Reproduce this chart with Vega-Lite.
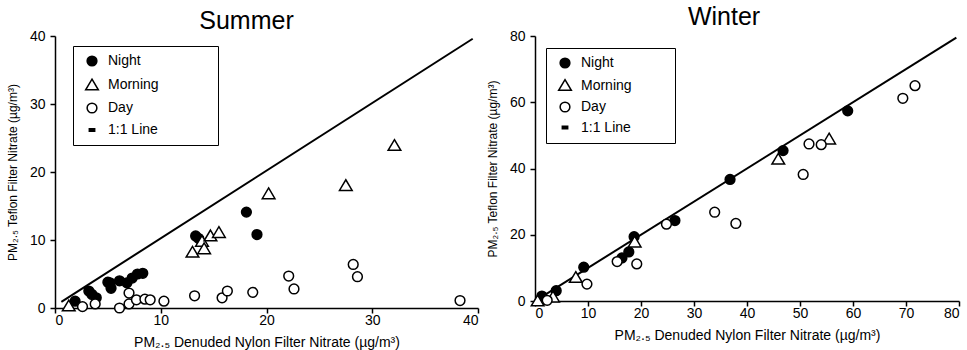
{
  "$schema": "https://vega.github.io/schema/vega-lite/v6.json",
  "padding": {"left": 6, "top": 5, "right": 2, "bottom": 2},
  "background": "white",
  "spacing": 7,
  "datasets": {
    "summer": [
      {"period": "Night", "x": 1.9, "y": 1.0},
      {"period": "Night", "x": 3.2, "y": 2.5},
      {"period": "Night", "x": 3.5, "y": 2.0},
      {"period": "Night", "x": 3.9, "y": 1.5},
      {"period": "Night", "x": 5.0, "y": 3.8},
      {"period": "Night", "x": 5.2, "y": 3.7},
      {"period": "Night", "x": 5.3, "y": 2.9},
      {"period": "Night", "x": 6.1, "y": 4.0},
      {"period": "Night", "x": 6.8, "y": 3.7},
      {"period": "Night", "x": 7.3, "y": 4.4},
      {"period": "Night", "x": 7.8, "y": 5.0},
      {"period": "Night", "x": 8.3, "y": 5.1},
      {"period": "Night", "x": 13.3, "y": 10.6},
      {"period": "Night", "x": 13.6, "y": 10.2},
      {"period": "Night", "x": 18.1, "y": 14.1},
      {"period": "Night", "x": 19.1, "y": 10.8},
      {"period": "Morning", "x": 1.3, "y": 0.3},
      {"period": "Morning", "x": 13.0, "y": 8.2},
      {"period": "Morning", "x": 13.9, "y": 9.8},
      {"period": "Morning", "x": 14.1, "y": 8.7},
      {"period": "Morning", "x": 14.7, "y": 10.6},
      {"period": "Morning", "x": 15.5, "y": 11.1},
      {"period": "Morning", "x": 20.2, "y": 16.8},
      {"period": "Morning", "x": 27.5, "y": 18.0},
      {"period": "Morning", "x": 32.1, "y": 23.9},
      {"period": "Day", "x": 2.6, "y": 0.2},
      {"period": "Day", "x": 3.8, "y": 0.6},
      {"period": "Day", "x": 6.1, "y": 0.0},
      {"period": "Day", "x": 7.0, "y": 0.6},
      {"period": "Day", "x": 7.0, "y": 2.2},
      {"period": "Day", "x": 7.7, "y": 1.2},
      {"period": "Day", "x": 8.5, "y": 1.3},
      {"period": "Day", "x": 9.0, "y": 1.2},
      {"period": "Day", "x": 10.3, "y": 1.0},
      {"period": "Day", "x": 13.2, "y": 1.8},
      {"period": "Day", "x": 15.8, "y": 1.5},
      {"period": "Day", "x": 16.3, "y": 2.5},
      {"period": "Day", "x": 18.7, "y": 2.3},
      {"period": "Day", "x": 22.1, "y": 4.7},
      {"period": "Day", "x": 22.6, "y": 2.8},
      {"period": "Day", "x": 28.2, "y": 6.4},
      {"period": "Day", "x": 28.6, "y": 4.6},
      {"period": "Day", "x": 38.3, "y": 1.1}
    ],
    "summerLine": [{"x": 0.6, "y": 0.9}, {"x": 39.5, "y": 39.6}],
    "winter": [
      {"period": "Night", "x": 1.3, "y": 1.5},
      {"period": "Night", "x": 4.0, "y": 3.1},
      {"period": "Night", "x": 9.2, "y": 10.2},
      {"period": "Night", "x": 16.4, "y": 13.0},
      {"period": "Night", "x": 17.7, "y": 14.8},
      {"period": "Night", "x": 18.7, "y": 19.4},
      {"period": "Night", "x": 26.4, "y": 24.3},
      {"period": "Night", "x": 36.8, "y": 36.7},
      {"period": "Night", "x": 46.8, "y": 45.4},
      {"period": "Night", "x": 59.0, "y": 57.4},
      {"period": "Morning", "x": 0.5, "y": 0.0},
      {"period": "Morning", "x": 3.4, "y": 1.2},
      {"period": "Morning", "x": 7.7, "y": 7.1},
      {"period": "Morning", "x": 18.8, "y": 17.8},
      {"period": "Morning", "x": 45.9, "y": 42.8},
      {"period": "Morning", "x": 55.5, "y": 48.9},
      {"period": "Day", "x": 2.3, "y": 0.2},
      {"period": "Day", "x": 9.8, "y": 5.1},
      {"period": "Day", "x": 15.5, "y": 11.9},
      {"period": "Day", "x": 19.2, "y": 11.2},
      {"period": "Day", "x": 24.8, "y": 23.2},
      {"period": "Day", "x": 33.9, "y": 26.8},
      {"period": "Day", "x": 37.9, "y": 23.4},
      {"period": "Day", "x": 50.6, "y": 38.2},
      {"period": "Day", "x": 51.7, "y": 47.4},
      {"period": "Day", "x": 54.0, "y": 47.2},
      {"period": "Day", "x": 69.4, "y": 61.2},
      {"period": "Day", "x": 71.7, "y": 65.0}
    ],
    "winterLine": [{"x": 0.5, "y": 0.5}, {"x": 79.5, "y": 79.5}]
  },
  "hconcat": [
    {
      "title": {"text": "Summer", "fontSize": 25, "fontWeight": "normal", "font": "Liberation Sans", "offset": -5, "dx": -20},
      "width": 423,
      "height": 272,
      "layer": [
        {
          "data": {"name": "summerLine"},
          "mark": {"type": "line", "color": "black", "strokeWidth": 2},
          "encoding": {
            "x": {"field": "x", "type": "quantitative"},
            "y": {"field": "y", "type": "quantitative"}
          }
        },
        {
          "data": {"name": "summer"},
          "mark": {"type": "point", "filled": true, "strokeWidth": 1.5, "size": 95, "opacity": 1},
          "encoding": {
            "x": {"field": "x", "type": "quantitative", "scale": {"domain": [0, 40], "nice": false, "zero": false},
              "axis": {"values": [0, 10, 20, 30, 40], "title": "PM₂.₅ Denuded Nylon Filter Nitrate (µg/m³)"}},
            "y": {"field": "y", "type": "quantitative", "scale": {"domain": [0, 40], "nice": false},
              "axis": {"values": [0, 10, 20, 30, 40], "title": "PM₂.₅ Teflon Filter Nitrate (µg/m³)"}},
            "shape": {"field": "period", "type": "nominal",
              "scale": {"domain": ["Night", "Morning", "Day", "1:1 Line"], "range": ["circle", "M0,-1.2L1.3,1L-1.3,1Z", "circle", "M-0.55,-0.25H0.55V0.25H-0.55Z"]},
              "legend": {"orient": "none", "legendX": 18, "legendY": 10, "title": null, "rowPadding": 7,
                "labelExpr": "datum.label == 'Morning' ? 'Morning\u00a0\u00a0\u00a0\u00a0\u00a0\u00a0\u00a0\u00a0\u00a0\u00a0\u00a0\u00a0\u00a0\u200b' : datum.label"}},
            "fill": {"field": "period", "type": "nominal",
              "scale": {"domain": ["Night", "Morning", "Day", "1:1 Line"], "range": ["black", "white", "white", "black"]},
              "legend": {"orient": "none", "legendX": 18, "legendY": 10, "title": null, "rowPadding": 7,
                "labelExpr": "datum.label == 'Morning' ? 'Morning\u00a0\u00a0\u00a0\u00a0\u00a0\u00a0\u00a0\u00a0\u00a0\u00a0\u00a0\u00a0\u00a0\u200b' : datum.label"}},
            "stroke": {"field": "period", "type": "nominal",
              "scale": {"domain": ["Night", "Morning", "Day", "1:1 Line"], "range": ["black", "black", "black", "black"]},
              "legend": {"orient": "none", "legendX": 18, "legendY": 10, "title": null, "rowPadding": 7,
                "labelExpr": "datum.label == 'Morning' ? 'Morning\u00a0\u00a0\u00a0\u00a0\u00a0\u00a0\u00a0\u00a0\u00a0\u00a0\u00a0\u00a0\u00a0\u200b' : datum.label"}}
          }
        }
      ]
    },
    {
      "title": {"text": "Winter", "fontSize": 25, "fontWeight": "normal", "font": "Liberation Sans", "offset": -1, "dx": -23},
      "width": 424,
      "height": 265,
      "layer": [
        {
          "data": {"name": "winterLine"},
          "mark": {"type": "line", "color": "black", "strokeWidth": 2},
          "encoding": {
            "x": {"field": "x", "type": "quantitative"},
            "y": {"field": "y", "type": "quantitative"}
          }
        },
        {
          "data": {"name": "winter"},
          "mark": {"type": "point", "filled": true, "strokeWidth": 1.5, "size": 95, "opacity": 1},
          "encoding": {
            "x": {"field": "x", "type": "quantitative", "scale": {"domain": [0, 80], "nice": false},
              "axis": {"values": [0, 10, 20, 30, 40, 50, 60, 70, 80], "title": "PM₂.₅ Denuded Nylon Filter Nitrate (µg/m³)"}},
            "y": {"field": "y", "type": "quantitative", "scale": {"domain": [0, 80], "nice": false},
              "axis": {"values": [0, 10, 20, 30, 40, 50, 60, 70, 80], "title": "PM₂.₅ Teflon Filter Nitrate (µg/m³)"}},
            "shape": {"field": "period", "type": "nominal",
              "scale": {"domain": ["Night", "Morning", "Day", "1:1 Line"], "range": ["circle", "M0,-1.2L1.3,1L-1.3,1Z", "circle", "M-0.55,-0.25H0.55V0.25H-0.55Z"]},
              "legend": {"orient": "none", "legendX": 11, "legendY": 12, "title": null, "rowPadding": 5.5,
                "labelExpr": "datum.label == 'Morning' ? 'Morning\u00a0\u00a0\u00a0\u00a0\u00a0\u00a0\u00a0\u00a0\u00a0\u200b' : datum.label"}},
            "fill": {"field": "period", "type": "nominal",
              "scale": {"domain": ["Night", "Morning", "Day", "1:1 Line"], "range": ["black", "white", "white", "black"]},
              "legend": {"orient": "none", "legendX": 11, "legendY": 12, "title": null, "rowPadding": 5.5,
                "labelExpr": "datum.label == 'Morning' ? 'Morning\u00a0\u00a0\u00a0\u00a0\u00a0\u00a0\u00a0\u00a0\u00a0\u200b' : datum.label"}},
            "stroke": {"field": "period", "type": "nominal",
              "scale": {"domain": ["Night", "Morning", "Day", "1:1 Line"], "range": ["black", "black", "black", "black"]},
              "legend": {"orient": "none", "legendX": 11, "legendY": 12, "title": null, "rowPadding": 5.5,
                "labelExpr": "datum.label == 'Morning' ? 'Morning\u00a0\u00a0\u00a0\u00a0\u00a0\u00a0\u00a0\u00a0\u00a0\u200b' : datum.label"}}
          }
        }
      ]
    }
  ],
  "resolve": {"scale": {"shape": "independent", "fill": "independent", "stroke": "independent"}, "legend": {"shape": "independent", "fill": "independent", "stroke": "independent"}},
  "config": {
    "font": "Liberation Sans",
    "view": {"stroke": null},
    "axis": {
      "grid": false,
      "domainColor": "black",
      "domainWidth": 1.5,
      "tickColor": "black",
      "tickWidth": 1.5,
      "tickSize": 5,
      "labelColor": "black",
      "labelFont": "Liberation Sans",
      "labelFontSize": 14,
      "titleColor": "black",
      "titleFont": "Liberation Sans",
      "titleFontWeight": "normal"
    },
    "axisX": {"labelPadding": 0, "titlePadding": 8, "titleFontSize": 14},
    "axisY": {"labelPadding": 5, "titlePadding": 10, "titleFontSize": 12},
    "legend": {
      "strokeColor": "black",
      "fillColor": "white",
      "padding": 8,
      "labelFontSize": 14,
      "labelColor": "black",
      "labelFont": "Liberation Sans",
      "symbolSize": 95,
      "symbolStrokeWidth": 1.5,
      "symbolOffset": 4,
      "labelOffset": 9
    }
  }
}
